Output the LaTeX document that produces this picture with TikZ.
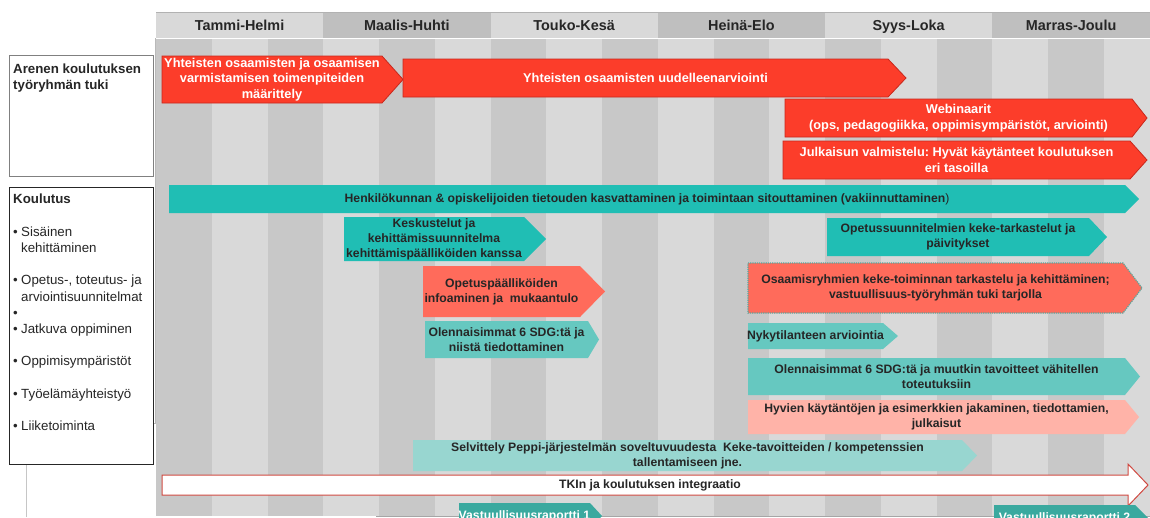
\documentclass[tikz,border=0pt]{standalone}
\usepackage{fontspec}
\setmainfont{Liberation Sans}
\usepackage{tikz}
\frenchspacing
\definecolor{headLight}{HTML}{D9D9D9}
\definecolor{headDark}{HTML}{BFBFBF}
\definecolor{stripeLight}{HTML}{D9D9D9}
\definecolor{stripeDark}{HTML}{C8C8C8}
\definecolor{textDark}{HTML}{262626}
\definecolor{taskRed}{HTML}{FC3D2A}
\definecolor{taskRedEdge}{HTML}{C8281C}
\definecolor{taskTeal}{HTML}{20BEB4}
\definecolor{taskSalmon}{HTML}{FF6B5B}
\definecolor{taskMint}{HTML}{66C8C0}
\definecolor{taskBlush}{HTML}{FFB3A8}
\definecolor{taskPale}{HTML}{98D6D0}
\definecolor{taskReport}{HTML}{3AA99F}
\definecolor{dotTeal}{HTML}{5AA69C}
\definecolor{frameRed}{HTML}{D04A42}
\newcommand\taskarrow[8]{%
  % #1 style, #2 name, #3 left, #4 start of tip, #5 tip, #6 top, #7 bottom, #8 text
  \draw[#1] (#3,#6) -- (#4,#6) -- (#5,{(#6+#7)/2}) -- (#4,#7) -- (#3,#7) -- cycle
    ({(#3+#4)/2},{(#6+#7)/2}) node[task text] (#2) {#8};
}
\newcommand\bitem[1]{\makebox[8pt][l]{•}#1}
\newcommand\bcont[1]{\hspace*{8pt}#1}
\tikzset{%
  task text/.style={font=\bfseries\fontsize{12.2}{15}\selectfont,align=center,
    inner sep=0pt},%
  red task/.style={fill=taskRed,draw=taskRedEdge,line width=0.8pt,text=white,
    task text/.append style={font=\bfseries\fontsize{12.8}{15.5}\selectfont}},%
  teal task/.style={fill=taskTeal,draw=none,text=textDark},%
  salmon task/.style={fill=taskSalmon,draw=none,text=textDark},%
  mint task/.style={fill=taskMint,draw=none,text=textDark},%
  blush task/.style={fill=taskBlush,draw=none,text=textDark},%
  pale task/.style={fill=taskPale,draw=none,text=textDark},%
  report task/.style={fill=taskReport,draw=none,text=white},%
  integration arrow/.style={fill=white,draw=frameRed,line width=1pt,text=textDark},%
  month head/.style={font=\bfseries\fontsize{14.4}{16}\selectfont,text=textDark,
    inner sep=0pt,anchor=base},%
  side text/.style={font=\fontsize{13.3}{16.2}\selectfont,align=left,text=textDark,
    inner sep=0pt,anchor=north west}%
}

\begin{document}
\begin{tikzpicture}[x=1pt,y=-1pt]
	\useasboundingbox (0,0) rectangle (1150,517);
	\clip (0,0) rectangle (1150,517);
	
	%% month stripes
	\foreach \i in {0,...,17}{
		\pgfmathsetmacro\xa{156+\i*55.75}
		\pgfmathsetmacro\xb{min(\xa+55.75,1150)}
		\ifodd\i \def\stripefill{stripeLight}\else\def\stripefill{stripeDark}\fi
		\fill[\stripefill] (\xa,38.5) rectangle (\xb,516);
	}
	
	%% two-month header
	\foreach \lbl [count=\i from 0] in {Tammi-Helmi,Maalis-Huhti,Touko-Kesä,Heinä-Elo,Syys-Loka,Marras-Joulu}{
		\pgfmathsetmacro\xa{156+\i*167.25}
		\pgfmathsetmacro\xb{min(\xa+167.25,1150)}
		\ifodd\i \def\headfill{headDark}\else\def\headfill{headLight}\fi
		\fill[\headfill] (\xa,12) rectangle (\xb,37.5);
		\node[month head] (month\i) at ({(\xa+\xb)/2},30) {\lbl};
	}
	\draw[gray!60,line width=0.5pt] (156,12) -- (1150,12);
	
	%% frame lines
	\draw[gray!55,line width=0.6pt] (155.5,38) -- (155.5,423) -- (153,423);
	\draw[gray!45,line width=0.6pt] (26,464) -- (26,517);
	\draw[gray!70,line width=0.8pt] (376,516.3) -- (1150,516.3);
	
	%% side boxes
	\draw[fill=white,draw=gray,line width=0.8pt] (9,55) rectangle (153,176);
	\node[side text] (supportlabel) at (13,63.5) {\textbf{Arenen koulutuksen}\\\textbf{työryhmän tuki}};
	\draw[fill=white,draw=textDark,line width=0.8pt] (9,187) rectangle (153,464);
	\node[side text] (traininglabel) at (13,194) {\textbf{Koulutus}\\[16.2pt]
		\bitem{Sisäinen}\\\bcont{kehittäminen}\\[16.2pt]
		\bitem{Opetus-, toteutus- ja}\\\bcont{arviointisuunnitelmat}\\
		•\\
		\bitem{Jatkuva oppiminen}\\[16.2pt]
		\bitem{Oppimisympäristöt}\\[16.2pt]
		\bitem{Työelämäyhteistyö}\\[16.2pt]
		\bitem{Liiketoiminta}};
	
	%% support group tasks
	\taskarrow{red task}{defining}{162}{382}{403}{56}{103}{Yhteisten osaamisten ja osaamisen\\varmistamisen toimenpiteiden\\määrittely}
	\taskarrow{red task}{reassess}{403}{888}{906}{59}{97}{Yhteisten osaamisten uudelleenarviointi}
	\taskarrow{red task}{webinars}{785}{1132}{1147}{99}{137}{Webinaarit\\(ops, pedagogiikka, oppimisympäristöt, arviointi)}
	\taskarrow{red task}{publication}{783}{1130}{1147}{141}{179}{Julkaisun valmistelu: Hyvät käytänteet koulutuksen\\eri tasoilla}
	
	%% training tasks
	\taskarrow{teal task}{awareness}{169}{1125}{1139}{185}{213}{Henkilökunnan \& opiskelijoiden tietouden kasvattaminen ja toimintaan sitouttaminen (vakiinnuttaminen\textmd{)}}
	\taskarrow{teal task}{discussions}{344}{524}{546}{217}{261}{Keskustelut ja\\kehittämissuunnitelma\\kehittämispäälliköiden kanssa}
	\taskarrow{teal task}{curricula}{827}{1089}{1107}{218}{256}{Opetussuunnitelmien keke-tarkastelut ja\\päivitykset}
	\taskarrow{salmon task}{heads}{423}{580}{605}{266}{317}{Opetuspäälliköiden\\infoaminen ja~ mukaantulo}
	\taskarrow{salmon task,draw=dotTeal,densely dotted,line width=1.2pt}{groups}{748}{1123}{1142}{263}{313}{Osaamisryhmien keke-toiminnan tarkastelu ja kehittäminen;\\vastuullisuus-työryhmän tuki tarjolla}
	\taskarrow{mint task}{sdgfirst}{425}{588}{599}{321}{358}{Olennaisimmat 6 SDG:tä ja\\niistä tiedottaminen}
	\taskarrow{mint task}{status}{748}{883}{898}{323}{349}{Nykytilanteen arviointia}
	\taskarrow{mint task}{sdgall}{748}{1125}{1140}{358}{395}{Olennaisimmat 6 SDG:tä ja muutkin tavoitteet vähitellen\\toteutuksiin}
	\taskarrow{blush task}{sharing}{748}{1125}{1139}{400}{434}{Hyvien käytäntöjen ja esimerkkien jakaminen, tiedottamien,\\julkaisut}
	\taskarrow{pale task}{peppi}{413}{962}{977}{440}{471}{Selvittely Peppi-järjestelmän soveltuvuudesta~ Keke-tavoitteiden / kompetenssien\\tallentamiseen jne.}
	
	%% integration
	\draw[integration arrow] (162,475) -- (1128,475) -- (1128,464) -- (1148,485) -- (1128,506)
		-- (1128,495) -- (162,495) -- cycle (650,485) node[task text] (integration) {TKIn ja koulutuksen integraatio};
	
	%% reports
	\taskarrow{report task}{reportone}{459}{590}{602}{503}{529}{Vastuullisuusraportti 1}
	\taskarrow{report task}{reporttwo}{994}{1135}{1148}{505}{531}{Vastuullisuusraportti 2}
	
\end{tikzpicture}
\end{document}
